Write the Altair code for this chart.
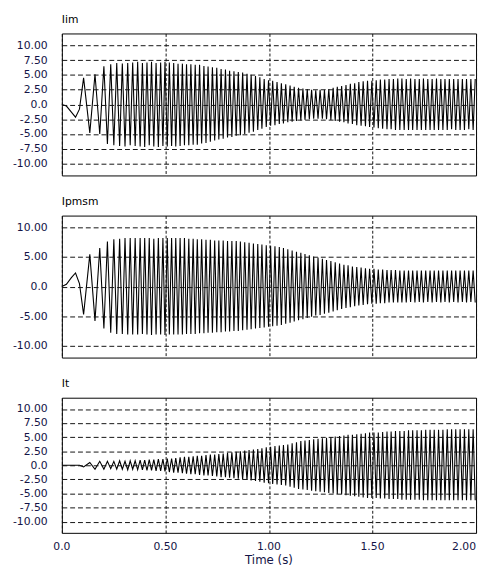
import altair as alt
import pandas as pd

# Times (s) of the half-cycle extremes (shared by the three panels)
times = [
    0.000, 0.022, 0.046, 0.066, 0.085, 0.105, 0.135, 0.160, 0.183, 0.203,
    0.220, 0.236, 0.251, 0.265, 0.279, 0.292, 0.305, 0.318, 0.330, 0.342,
    0.354, 0.366, 0.378, 0.389, 0.400, 0.411, 0.422, 0.433, 0.444, 0.455,
    0.466, 0.477, 0.488, 0.498, 0.509, 0.519, 0.530, 0.540, 0.550, 0.561,
    0.571, 0.582, 0.592, 0.602, 0.613, 0.623, 0.634, 0.644, 0.654, 0.665,
    0.675, 0.686, 0.696, 0.706, 0.717, 0.727, 0.738, 0.748, 0.758, 0.769,
    0.779, 0.790, 0.800, 0.810, 0.821, 0.831, 0.842, 0.852, 0.862, 0.873,
    0.883, 0.894, 0.904, 0.914, 0.925, 0.935, 0.946, 0.956, 0.966, 0.977,
    0.987, 0.998, 1.008, 1.018, 1.029, 1.039, 1.050, 1.060, 1.070, 1.081,
    1.091, 1.102, 1.112, 1.122, 1.133, 1.143, 1.154, 1.164, 1.174, 1.185,
    1.195, 1.206, 1.216, 1.226, 1.237, 1.247, 1.258, 1.268, 1.278, 1.289,
    1.299, 1.310, 1.320, 1.330, 1.341, 1.351, 1.362, 1.372, 1.382, 1.393,
    1.403, 1.414, 1.424, 1.434, 1.445, 1.455, 1.466, 1.476, 1.486, 1.497,
    1.507, 1.518, 1.528, 1.538, 1.549, 1.559, 1.570, 1.580, 1.590, 1.601,
    1.611, 1.622, 1.632, 1.642, 1.653, 1.663, 1.674, 1.684, 1.694, 1.705,
    1.715, 1.726, 1.736, 1.746, 1.757, 1.767, 1.778, 1.788, 1.798, 1.809,
    1.819, 1.830, 1.840, 1.850, 1.861, 1.871, 1.882, 1.892, 1.902, 1.913,
    1.923, 1.934, 1.944, 1.954, 1.965, 1.975, 1.986, 1.996,
]

iim = [
    0.0, -0.27, -1.3, -2.15, -0.8, 4.5, -4.8, 5.1, -5.0, 6.45,
    -6.7, 6.8, -6.9, 7.0, -7.0, 6.9, -7.1, 7.0, -6.9, 7.1,
    -7.0, 7.2, -7.1, 7.0, -7.2, 7.1, -6.9, 7.2, -7.1, 7.0,
    -7.2, 7.1, -7.0, 7.2, -7.1, 7.1, -7.0, 7.0, -7.1, 6.9,
    -7.0, 6.9, -6.9, 6.8, -6.9, 6.8, -6.8, 6.7, -6.8, 6.7,
    -6.6, 6.5, -6.5, 6.4, -6.3, 6.3, -6.1, 6.2, -5.9, 6.0,
    -5.8, 5.9, -5.6, 5.7, -5.5, 5.6, -5.3, 5.5, -5.2, 5.4,
    -5.0, 5.2, -4.8, 5.0, -4.6, 4.8, -4.3, 4.6, -4.1, 4.3,
    -3.8, 4.1, -3.6, 4.0, -3.5, 3.8, -3.3, 3.6, -3.2, 3.4,
    -3.0, 3.2, -2.9, 3.0, -2.8, 2.8, -2.7, 2.7, -2.6, 2.6,
    -2.5, 2.5, -2.4, 2.4, -2.4, 2.5, -2.4, 2.5, -2.5, 2.6,
    -2.6, 2.8, -2.8, 3.0, -2.9, 3.1, -3.0, 3.3, -3.2, 3.5,
    -3.3, 3.6, -3.5, 3.8, -3.6, 3.9, -3.7, 4.0, -3.8, 4.0,
    -3.9, 4.1, -4.0, 4.2, -4.1, 4.2, -4.2, 4.3, -4.2, 4.3,
    -4.3, 4.4, -4.3, 4.4, -4.3, 4.3, -4.3, 4.4, -4.3, 4.3,
    -4.3, 4.3, -4.3, 4.4, -4.3, 4.3, -4.3, 4.3, -4.3, 4.4,
    -4.3, 4.3, -4.3, 4.3, -4.3, 4.3, -4.2, 4.3, -4.3, 4.3,
    -4.3, 4.3, -4.3, 4.3, -4.2, 4.3, -4.3, 4.3,
]

ipmsm = [
    0.0, 0.4, 1.5, 2.3, 0.5, -4.7, 5.45, -5.8, 6.5, -7.1,
    7.6, -7.8, 8.0, -8.0, 8.1, -8.0, 8.2, -8.1, 8.2, -8.1,
    8.2, -8.1, 8.2, -8.0, 8.2, -8.1, 8.2, -8.2, 8.1, -8.1,
    8.2, -8.1, 8.2, -8.2, 8.2, -8.1, 8.2, -8.1, 8.2, -8.1,
    8.2, -8.1, 8.2, -8.0, 8.1, -8.0, 8.1, -8.0, 8.0, -7.9,
    8.0, -7.9, 7.9, -7.8, 7.9, -7.8, 7.8, -7.7, 7.8, -7.7,
    7.8, -7.6, 7.7, -7.6, 7.7, -7.5, 7.7, -7.5, 7.6, -7.4,
    7.5, -7.3, 7.4, -7.2, 7.3, -7.1, 7.2, -7.0, 7.1, -6.9,
    7.0, -6.8, 6.9, -6.7, 6.8, -6.6, 6.7, -6.5, 6.5, -6.3,
    6.3, -6.1, 6.1, -5.9, 5.9, -5.7, 5.7, -5.5, 5.5, -5.3,
    5.3, -5.1, 5.1, -4.9, 4.9, -4.8, 4.7, -4.6, 4.5, -4.4,
    4.3, -4.2, 4.1, -4.0, 3.9, -3.8, 3.7, -3.6, 3.6, -3.5,
    3.4, -3.3, 3.3, -3.2, 3.2, -3.1, 3.1, -3.0, 3.0, -2.9,
    3.0, -2.9, 2.9, -2.8, 2.9, -2.8, 2.8, -2.7, 2.8, -2.7,
    2.8, -2.7, 2.7, -2.7, 2.7, -2.7, 2.7, -2.6, 2.7, -2.7,
    2.7, -2.6, 2.7, -2.7, 2.7, -2.6, 2.7, -2.7, 2.7, -2.6,
    2.7, -2.7, 2.7, -2.6, 2.7, -2.7, 2.7, -2.6, 2.7, -2.7,
    2.7, -2.6, 2.7, -2.7, 2.7, -2.6, 2.7, -2.7,
]

it = [
    0.0, 0.0, 0.0, 0.0, 0.0, -0.3, 0.5, -0.7, 0.7, -0.7,
    0.7, -0.6, 0.7, -0.7, 0.8, -0.7, 0.7, -0.8, 0.8, -0.7,
    0.8, -0.8, 0.9, -0.8, 0.9, -0.9, 1.0, -0.9, 1.0, -1.0,
    1.1, -1.0, 1.1, -1.1, 1.2, -1.2, 1.2, -1.3, 1.3, -1.3,
    1.4, -1.4, 1.5, -1.5, 1.5, -1.6, 1.6, -1.6, 1.7, -1.7,
    1.7, -1.8, 1.8, -1.8, 1.9, -1.9, 1.9, -2.0, 2.0, -2.1,
    2.1, -2.1, 2.2, -2.2, 2.3, -2.3, 2.4, -2.4, 2.5, -2.5,
    2.6, -2.6, 2.7, -2.7, 2.8, -2.8, 2.9, -2.9, 3.0, -3.1,
    3.2, -3.2, 3.3, -3.3, 3.4, -3.4, 3.5, -3.5, 3.6, -3.6,
    3.7, -3.8, 3.9, -4.0, 4.1, -4.2, 4.3, -4.3, 4.4, -4.4,
    4.5, -4.5, 4.6, -4.6, 4.7, -4.7, 4.8, -4.8, 4.9, -4.9,
    5.0, -5.0, 5.1, -5.1, 5.2, -5.2, 5.3, -5.3, 5.4, -5.4,
    5.4, -5.5, 5.5, -5.6, 5.6, -5.7, 5.7, -5.8, 5.8, -5.8,
    5.8, -5.8, 5.8, -5.9, 5.9, -5.9, 6.0, -6.0, 6.0, -6.0,
    6.1, -6.0, 6.1, -6.1, 6.1, -6.1, 6.2, -6.1, 6.2, -6.1,
    6.2, -6.1, 6.2, -6.2, 6.3, -6.2, 6.3, -6.2, 6.3, -6.2,
    6.3, -6.2, 6.3, -6.2, 6.4, -6.2, 6.4, -6.2, 6.4, -6.2,
    6.4, -6.2, 6.4, -6.2, 6.4, -6.2, 6.4, -6.2,
]

x_ticks = [0.0, 0.5, 1.0, 1.5, 2.0]
x_tick_labels = ["0.0", "0.50", "1.00", "1.50", "2.00"]
y_ticks_fine = [-10, -7.5, -5, -2.5, 0, 2.5, 5, 7.5, 10]
y_ticks_coarse = [-10, -5, 0, 5, 10]

# plain ASCII hyphen for negatives (d3-format would use a wide unicode minus)
LABEL_EXPR = (
    "datum.value == 0 ? '0.0' : "
    "(datum.value < 0 ? '-' : '') + format(abs(datum.value), '.2f')"
)
FONT = "DejaVu Sans"
LABEL_COLOR = "#141446"
GRID_COLOR = "#111111"
WIDTH = 423

X_SCALE = alt.Scale(domain=[0, 2], nice=False, zero=False)


def panel(name, values, yticks, height, bottom):
    df = pd.DataFrame({"t": times, "v": values})
    x_axis = alt.Axis(
        values=x_ticks,
        labels=False,
        ticks=False,
        domain=False,
        grid=True,
        gridColor=GRID_COLOR,
        gridDash=[3, 2],
        gridWidth=1,
        zindex=1,
        title=None,
        minExtent=0,
        maxExtent=0,
    )
    y_axis = alt.Axis(
        values=yticks,
        labelExpr=LABEL_EXPR,
        labelPadding=15,
        ticks=False,
        domain=False,
        grid=True,
        gridColor=GRID_COLOR,
        gridDash=[5, 3],
        gridWidth=1,
        zindex=1,
        title=None,
        minExtent=54,
        maxExtent=54,
    )
    line = (
        alt.Chart(df)
        .mark_line(color="black", strokeWidth=1.1)
        .encode(
            x=alt.X("t:Q", scale=X_SCALE, axis=x_axis),
            y=alt.Y("v:Q", scale=alt.Scale(domain=[-12, 12], nice=False), axis=y_axis),
        )
    )
    label = (
        alt.Chart(pd.DataFrame({"name": [name]}))
        .mark_text(align="left", baseline="alphabetic", font=FONT, fontSize=11, color="black")
        .encode(text="name:N", x=alt.value(0), y=alt.value(-10.5))
    )
    layers = [line, label]
    if bottom:
        tick_df = pd.DataFrame({"t": x_ticks, "lab": x_tick_labels})
        inner = (
            alt.Chart(tick_df)
            .transform_filter("datum.t < 2")
            .mark_text(align="center", baseline="top", font=FONT, fontSize=11, color=LABEL_COLOR)
            .encode(x=alt.X("t:Q", scale=X_SCALE), text="lab:N", y=alt.value(height + 9))
        )
        last = (
            alt.Chart(tick_df)
            .transform_filter("datum.t >= 2")
            .mark_text(align="right", baseline="top", font=FONT, fontSize=11, color=LABEL_COLOR)
            .encode(x=alt.X("t:Q", scale=X_SCALE), text="lab:N", y=alt.value(height + 9))
        )
        xtitle = (
            alt.Chart(pd.DataFrame({"name": ["Time (s)"]}))
            .mark_text(align="center", baseline="top", font=FONT, fontSize=12, color=LABEL_COLOR)
            .encode(text="name:N", x=alt.value(WIDTH / 2), y=alt.value(height + 23))
        )
        layers += [inner, last, xtitle]
    return alt.layer(*layers).properties(width=WIDTH, height=height)


chart = (
    alt.vconcat(
        panel("Iim", iim, y_ticks_fine, 145, False),
        panel("Ipmsm", ipmsm, y_ticks_coarse, 145, False),
        panel("It", it, y_ticks_fine, 138, True),
        spacing=20,
    )
    .properties(padding={"left": 0, "top": 0, "right": 0, "bottom": 0}, background="white")
    .configure_view(stroke="black", strokeWidth=1)
    .configure_axis(labelFont=FONT, labelFontSize=11, labelColor=LABEL_COLOR)
)

chart.save("out.html", embed_options={"renderer": "svg", "actions": False})
